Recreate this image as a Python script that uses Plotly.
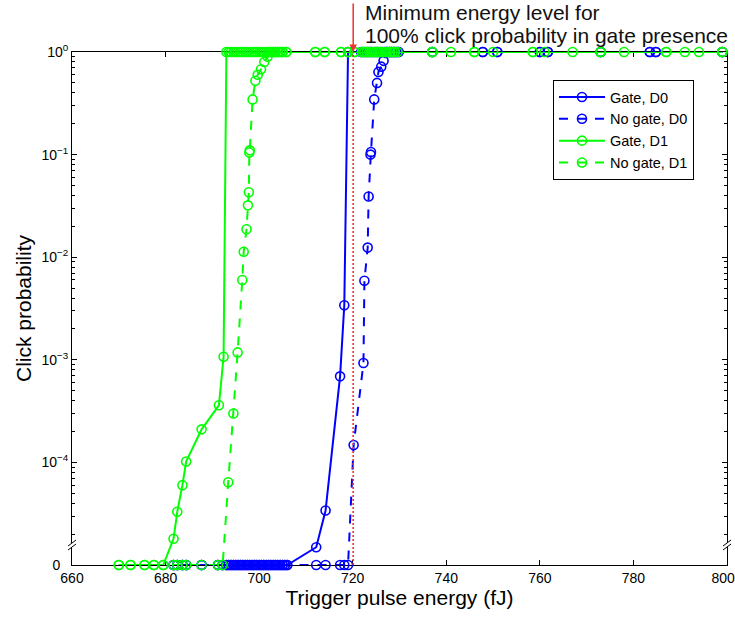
import plotly.graph_objects as go

# ---------------- data ----------------
gate_d0_x = [681.7, 682.5, 683.6, 684.4, 687.7, 691.2, 692.2,
             693.0, 693.5, 694.0, 694.5, 695.0, 695.5, 696.0, 696.5, 697.0,
             697.5, 698.0, 698.5, 699.0, 699.5, 700.0, 700.5, 701.0, 701.5,
             702.0, 702.5, 703.0, 703.5, 704.0, 704.5, 705.0, 705.5, 706.0,
             712.2, 714.2, 717.3, 718.2, 719.0,
             721.8, 722.3, 722.8, 723.3, 723.8, 724.3, 724.8, 725.3, 725.8,
             726.3, 726.8, 727.3, 727.8, 728.3, 728.8, 729.3, 729.8,
             737.0, 747.8, 750.9, 760.0, 761.7, 773.0, 783.5, 784.8, 799.0]
gate_d0_p = [0, 0, 0, 0, 0, 0, 0,
             0, 0, 0, 0, 0, 0, 0, 0, 0,
             0, 0, 0, 0, 0, 0, 0, 0, 0,
             0, 0, 0, 0, 0, 0, 0, 0, 0,
             1.49e-5, 3.4e-5, 6.9e-4, 3.4e-3, 1,
             1, 1, 1, 1, 1, 1, 1, 1, 1,
             1, 1, 1, 1, 1, 1, 1, 1,
             1, 1, 1, 1, 1, 1, 1, 1, 1]

nogate_d0_x = [681.7, 682.5, 683.6, 684.4, 687.7, 691.2, 692.2,
               693.0, 693.5, 694.0, 694.5, 695.0, 695.5, 696.0, 696.5, 697.0,
               697.5, 698.0, 698.5, 699.0, 699.5, 700.0, 700.5, 701.0, 701.5,
               702.0, 702.5, 703.0, 703.5, 704.0, 704.5, 705.0, 705.5, 706.0,
               712.2, 714.2, 717.3, 718.2, 719.0,
               720.2, 722.3, 722.5, 723.2, 723.4, 723.8, 723.9, 724.6, 725.2,
               725.5, 726.1, 726.6,
               727.3, 727.8, 728.3, 728.8, 729.3, 729.8,
               737.0, 747.8, 750.9, 760.0, 761.7, 773.0, 783.5, 784.8, 799.0]
nogate_d0_p = [0, 0, 0, 0, 0, 0, 0,
               0, 0, 0, 0, 0, 0, 0, 0, 0,
               0, 0, 0, 0, 0, 0, 0, 0, 0,
               0, 0, 0, 0, 0, 0, 0, 0, 0,
               0, 0, 0, 0, 0,
               1.48e-4, 9.3e-4, 5.9e-3, 1.24e-2, 3.9e-2, 0.100, 0.106, 0.345, 0.50,
               0.64, 0.72, 0.82,
               1, 1, 1, 1, 1, 1,
               1, 1, 1, 1, 1, 1, 1, 1, 1]

gate_d1_x = [670.0, 672.5, 675.5, 677.5, 679.5,
             681.7, 682.5, 683.6, 684.4, 687.7, 691.4, 692.4,
             693.0, 693.5, 694.0, 694.5, 695.0, 695.5, 696.0, 696.5, 697.0,
             697.5, 698.0, 698.5, 699.0, 699.5, 700.0, 700.5, 701.0, 701.5,
             702.0, 702.5, 703.0, 703.5, 704.0, 704.5, 705.0, 705.8,
             712.0, 714.0, 717.5, 719.0, 720.4,
             722.0, 722.5, 723.0, 723.5, 724.0, 724.5, 725.0, 725.5, 726.0,
             726.5, 727.0, 727.5, 728.0, 728.5, 729.0, 729.6,
             737.0, 741.0, 746.0, 750.0, 758.5, 761.0, 767.0, 773.0, 778.0,
             787.0, 791.0, 794.0, 799.0]
gate_d1_p = [0, 0, 0, 0, 0,
             1.8e-5, 3.3e-5, 6.0e-5, 1.02e-4, 2.1e-4, 3.6e-4, 1.07e-3,
             1, 1, 1, 1, 1, 1, 1, 1, 1,
             1, 1, 1, 1, 1, 1, 1, 1, 1,
             1, 1, 1, 1, 1, 1, 1, 1,
             1, 1, 1, 1, 1,
             1, 1, 1, 1, 1, 1, 1, 1, 1,
             1, 1, 1, 1, 1, 1, 1,
             1, 1, 1, 1, 1, 1, 1, 1, 1,
             1, 1, 1, 1]

nogate_d1_x = [670.0, 672.5, 675.5, 677.5, 679.5,
               681.7, 682.5, 683.6, 684.4, 687.7, 691.2, 692.2,
               693.4, 694.5, 695.4, 696.4, 696.7, 697.3, 697.6, 697.8, 697.9,
               698.0, 698.6, 699.2, 699.7, 700.4, 701.1, 701.8,
               702.5, 703.0, 703.5, 704.0, 704.5, 705.0, 705.8,
               712.0, 714.0, 717.5, 719.0, 720.4,
               722.0, 723.0, 724.0, 725.0, 726.0, 727.0, 728.0, 729.0,
               737.0, 746.0, 758.5, 773.0, 787.0, 799.0]
nogate_d1_p = [0, 0, 0, 0, 0,
               0, 0, 0, 0, 0, 0, 0,
               6.4e-5, 3.0e-4, 1.18e-3, 6.0e-3, 1.13e-2, 1.87e-2, 3.2e-2, 4.3e-2, 0.105,
               0.110, 0.345, 0.525, 0.60, 0.68, 0.80, 0.90,
               1, 1, 1, 1, 1, 1, 1,
               1, 1, 1, 1, 1,
               1, 1, 1, 1, 1, 1, 1, 1,
               1, 1, 1, 1, 1, 1]

threshold_energy = 720.1          # fJ, red dotted marker line
zero_level = 1e-5                 # where "0" sits on the broken log axis

x_ticks = [660, 680, 700, 720, 740, 760, 780, 800]
x_tick_text = ["660", "680", "700", "720", "740", "760", "780",
               "800\u00a0\u00a0"]
y_tick_vals = [1e-5, 1e-4, 1e-3, 1e-2, 1e-1, 1]
y_tick_text = ["0\u00a0\u00a0", "10<sup>−4</sup>", "10<sup>−3</sup>", "10<sup>−2</sup>",
               "10<sup>−1</sup>", "10<sup>0</sup>"]
y_minor_vals = [m * 10.0 ** e for e in range(-5, 0) for m in range(2, 10)]

note_line1 = "Minimum energy level for"
note_line2 = "100% click probability in gate presence"


def shown(vals):
    return [v if v > 0 else zero_level for v in vals]


BLUE = "#0000ff"
GREEN = "#00ff00"
RED = "#ee3333"
FONT = "Liberation Sans, Arial, Helvetica, sans-serif"

W, H = 735, 618
L, R, T, B = 72, 8, 52, 53
PW, PH = W - L - R, H - T - B

fig = go.Figure()

series = [
    ("Gate, D0", gate_d0_x, gate_d0_p, BLUE, "solid"),
    ("No gate, D0", nogate_d0_x, nogate_d0_p, BLUE, "dash"),
    ("Gate, D1", gate_d1_x, gate_d1_p, GREEN, "solid"),
    ("No gate, D1", nogate_d1_x, nogate_d1_p, GREEN, "dash"),
]
for name, xs, ps, col, dash in series:
    fig.add_trace(go.Scatter(
        x=xs, y=shown(ps), name=name, mode="lines+markers",
        line=dict(color=col, width=2, dash=dash),
        marker=dict(symbol="circle-open", size=9, color=col,
                    line=dict(width=1.6, color=col)),
        cliponaxis=False,
    ))

# red dotted threshold line
fig.add_trace(go.Scatter(
    x=[threshold_energy, threshold_energy], y=[zero_level, 1],
    mode="lines", line=dict(color=RED, width=1.6, dash="2px,2px"),
    showlegend=False, hoverinfo="skip", cliponaxis=False,
))

fig.update_layout(
    width=W, height=H,
    margin=dict(l=L, r=R, t=T, b=B, autoexpand=False),
    paper_bgcolor="white", plot_bgcolor="white",
    font=dict(family=FONT, size=14, color="black"),
    showlegend=True,
    legend=dict(
        x=(553 - L) / PW, y=(H - B - 80) / PH, xanchor="left", yanchor="top",
        bgcolor="white", bordercolor="black", borderwidth=1,
        font=dict(size=14.5), tracegroupgap=0, itemwidth=46,
    ),
)

fig.update_xaxes(
    range=[660, 800], tickvals=x_ticks, ticktext=x_tick_text,
    ticks="inside", ticklen=5,
    tickcolor="black", showline=True, linecolor="black", linewidth=1,
    mirror="ticks", showgrid=False, zeroline=False, layer="below traces",
    automargin=False, ticklabeloverflow="allow",
    title=dict(text="Trigger pulse energy (fJ)", font=dict(size=21), standoff=2),
    tickfont=dict(size=14),
)
fig.update_yaxes(
    type="log", range=[-5, 0], tickvals=y_tick_vals, ticktext=y_tick_text,
    ticks="inside", ticklen=5, tickcolor="black",
    minor=dict(tickvals=y_minor_vals, ticks="inside", ticklen=3, tickcolor="black"),
    showline=True, linecolor="black", linewidth=1, mirror="ticks",
    showgrid=False, zeroline=False, layer="below traces",
    automargin=False, ticklabeloverflow="allow",
    title=dict(text="Click probability", font=dict(size=21), standoff=4),
    tickfont=dict(size=14),
)

# axis-break marks (decoration, in paper coords)
px = 1 / PW
py = 1 / PH
yb = 20 * py
for xc in (0, 1):
    fig.add_shape(type="rect", xref="paper", yref="paper",
                  x0=xc - 2 * px, x1=xc + 2 * px, y0=yb - 2 * py, y1=yb + 2 * py,
                  fillcolor="white", line=dict(width=0), layer="above")
    for dy in (-2, 2):
        fig.add_shape(type="line", xref="paper", yref="paper",
                      x0=xc - 4 * px, x1=xc + 4 * px,
                      y0=yb + (dy - 3) * py, y1=yb + (dy + 3) * py,
                      line=dict(color="black", width=1), layer="above")

# arrow pointing to the threshold at the top of the axes
fig.add_annotation(x=threshold_energy, y=0, xref="x", yref="y",
                   text="", showarrow=True, ax=0, ay=-50,
                   arrowhead=2, arrowsize=1, arrowwidth=1.5, arrowcolor=RED)
for txt, ypix in ((note_line1, 12), (note_line2, 35.5)):
    fig.add_annotation(x=(363 - L) / PW, y=1 + (T - ypix) / PH,
                       xref="paper", yref="paper",
                       text=txt, showarrow=False, align="left",
                       xanchor="left", yanchor="middle",
                       font=dict(size=21, color="#111111"))

fig.write_html("out.html", config={"displayModeBar": False},
               post_script="document.body.style.margin='0px';")
